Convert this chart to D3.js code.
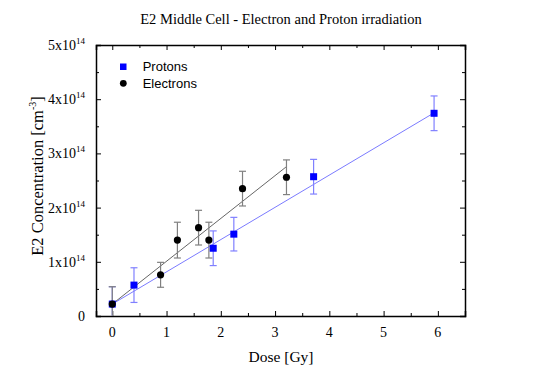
<!DOCTYPE html>
<html>
<head>
<meta charset="utf-8">
<script src="https://cdn.jsdelivr.net/npm/d3@7"></script>
<style>
  body { margin: 0; background: #fff; }
  svg { display: block; }
</style>
</head>
<body>
<div id="chart"></div>
<script>
// Data (concentration in units of 1e14 cm^-3)
var protonDose = [0, 0.40, 1.86, 2.24, 3.71, 5.93];
var protonConc = [0.22, 0.57, 1.25, 1.51, 2.57, 3.74];
var protonErr = [0.32, 0.32, 0.32, 0.31, 0.32, 0.32];

var electronDose = [0, 0.89, 1.20, 1.59, 1.78, 2.40, 3.21];
var electronConc = [0.22, 0.76, 1.40, 1.63, 1.40, 2.35, 2.56];
var electronErr = [0.32, 0.23, 0.33, 0.32, 0.33, 0.32, 0.32];

// Linear fits: [intercept, slope], drawn over [xStart, xEnd]
var protonFit = [0.22, 0.595];
var protonFitRange = [0, 5.93];
var electronFit = [0.22, 0.79];
var electronFitRange = [0, 3.2];

var xTicks = [0, 1, 2, 3, 4, 5, 6];
var yTicks = [0, 1, 2, 3, 4, 5];
var legendLabels = ["Protons", "Electrons"];

// Layout
var width = 540, height = 380;
var margin = { left: 96, right: 75, top: 45, bottom: 64 };
var serif = "'Liberation Serif', 'Times New Roman', serif";
var sans = "'Liberation Sans', Arial, sans-serif";

var svg = d3.select("#chart").append("svg")
  .attr("width", width)
  .attr("height", height);

svg.append("rect").attr("width", width).attr("height", height).attr("fill", "#fff");

var x = d3.scaleLinear().domain([-0.3, 6.5]).range([margin.left, width - margin.right]);
var y = d3.scaleLinear().domain([0, 5]).range([height - margin.bottom, margin.top]);

// Clip for data
svg.append("clipPath").attr("id", "plot-clip")
  .append("rect")
  .attr("x", x.range()[0]).attr("y", y.range()[1])
  .attr("width", x.range()[1] - x.range()[0])
  .attr("height", y.range()[0] - y.range()[1]);

// Axes (inward ticks on all four sides)
var halfX = d3.range(0, 6.5, 0.5);
var halfY = d3.range(0, 5.01, 0.5);

var bottomAxis = d3.axisBottom(x).tickValues(halfX).tickSize(-5).tickFormat("");
var topAxis = d3.axisTop(x).tickValues(halfX).tickSize(-5).tickFormat("");
var leftAxis = d3.axisLeft(y).tickValues(halfY).tickSize(-5).tickFormat("");
var rightAxis = d3.axisRight(y).tickValues(halfY).tickSize(-5).tickFormat("");

var axes = [
  [bottomAxis, "translate(0," + y.range()[0] + ")"],
  [topAxis, "translate(0," + y.range()[1] + ")"],
  [leftAxis, "translate(" + x.range()[0] + ",0)"],
  [rightAxis, "translate(" + x.range()[1] + ",0)"]
];
axes.forEach(function (a, k) {
  var g = svg.append("g").attr("transform", a[1]).call(a[0]);
  g.select(".domain").attr("stroke", "#000").attr("stroke-width", 1.5);
  g.selectAll(".tick line")
    .attr("stroke", "#000")
    .attr("stroke-width", 1)
    .each(function (d) {
      // minor ticks are shorter
      if (Math.abs(d - Math.round(d)) > 0.01) {
        var t = d3.select(this);
        if (k < 2) t.attr("y2", k === 0 ? -3 : 3);
        else t.attr("x2", k === 2 ? 3 : -3);
      }
    });
});

// X tick labels
svg.append("g").selectAll("text").data(xTicks).enter().append("text")
  .attr("x", function (d) { return x(d); })
  .attr("y", y.range()[0] + 21)
  .attr("text-anchor", "middle")
  .attr("font-family", serif)
  .attr("font-size", 14)
  .text(function (d) { return d; });

// Y tick labels with superscript exponent
var yLab = svg.append("g").selectAll("text").data(yTicks).enter().append("text")
  .attr("x", margin.left - 11)
  .attr("y", function (d) { return y(d) + 5; })
  .attr("text-anchor", "end")
  .attr("font-family", serif)
  .attr("font-size", 14);
yLab.each(function (d) {
  var t = d3.select(this);
  if (d === 0) { t.text("0"); return; }
  t.append("tspan").text(d + "x10");
  t.append("tspan").attr("dy", -6).attr("font-size", 9).text("14");
});

// Title and axis labels
svg.append("text")
  .attr("x", 281).attr("y", 24)
  .attr("text-anchor", "middle")
  .attr("font-family", serif).attr("font-size", 14.5)
  .text("E2 Middle Cell - Electron and Proton irradiation");

svg.append("text")
  .attr("x", 281).attr("y", 362)
  .attr("text-anchor", "middle")
  .attr("font-family", serif).attr("font-size", 15.5)
  .text("Dose [Gy]");

var yTitle = svg.append("text")
  .attr("transform", "translate(43,176) rotate(-90)")
  .attr("text-anchor", "middle")
  .attr("font-family", serif).attr("font-size", 16.5);
yTitle.append("tspan").text("E2 Concentration [cm");
yTitle.append("tspan").attr("dy", -7).attr("font-size", 10).text("-3");
yTitle.append("tspan").attr("dy", 7).text("]");

// Data layer
var plot = svg.append("g").attr("clip-path", "url(#plot-clip)");

var protons = protonDose.map(function (d, i) { return { x: d, y: protonConc[i], e: protonErr[i] }; });
var electrons = electronDose.map(function (d, i) { return { x: d, y: electronConc[i], e: electronErr[i] }; });

// Fit lines
function fitLine(fit, range, color, w) {
  plot.append("line")
    .attr("x1", x(range[0])).attr("y1", y(fit[0] + fit[1] * range[0]))
    .attr("x2", x(range[1])).attr("y2", y(fit[0] + fit[1] * range[1]))
    .attr("stroke", color).attr("stroke-width", w);
}
fitLine(protonFit, protonFitRange, "#7b7bff", 1);
fitLine(electronFit, electronFitRange, "#555", 0.9);

// Error bars
function errorBars(data, color) {
  var g = plot.append("g").attr("stroke", color).attr("stroke-width", 1.2);
  data.forEach(function (d) {
    g.append("line").attr("x1", x(d.x)).attr("x2", x(d.x))
      .attr("y1", y(d.y - d.e)).attr("y2", y(d.y + d.e));
    [d.y - d.e, d.y + d.e].forEach(function (v) {
      g.append("line").attr("x1", x(d.x) - 3.5).attr("x2", x(d.x) + 3.5)
        .attr("y1", y(v)).attr("y2", y(v));
    });
  });
}
errorBars(protons, "#8080ff");
errorBars(electrons, "#808080");

// Markers
plot.append("g").selectAll("rect").data(protons).enter().append("rect")
  .attr("x", function (d) { return x(d.x) - 3.5; })
  .attr("y", function (d) { return y(d.y) - 3.5; })
  .attr("width", 7).attr("height", 7)
  .attr("fill", "#0000ff");

plot.append("g").selectAll("circle").data(electrons).enter().append("circle")
  .attr("cx", function (d) { return x(d.x); })
  .attr("cy", function (d) { return y(d.y); })
  .attr("r", 3.6)
  .attr("fill", "#000");

// Legend
var legend = svg.append("g");
legend.append("rect").attr("x", 120).attr("y", 63.5).attr("width", 6.5).attr("height", 6.5).attr("fill", "#0000ff");
legend.append("circle").attr("cx", 123.3).attr("cy", 83.3).attr("r", 3.4).attr("fill", "#000");
legend.selectAll("text").data(legendLabels).enter().append("text")
  .attr("x", 142.7)
  .attr("y", function (d, i) { return 71 + i * 16.5; })
  .attr("font-family", sans).attr("font-size", 13)
  .text(function (d) { return d; });
</script>
</body>
</html>
